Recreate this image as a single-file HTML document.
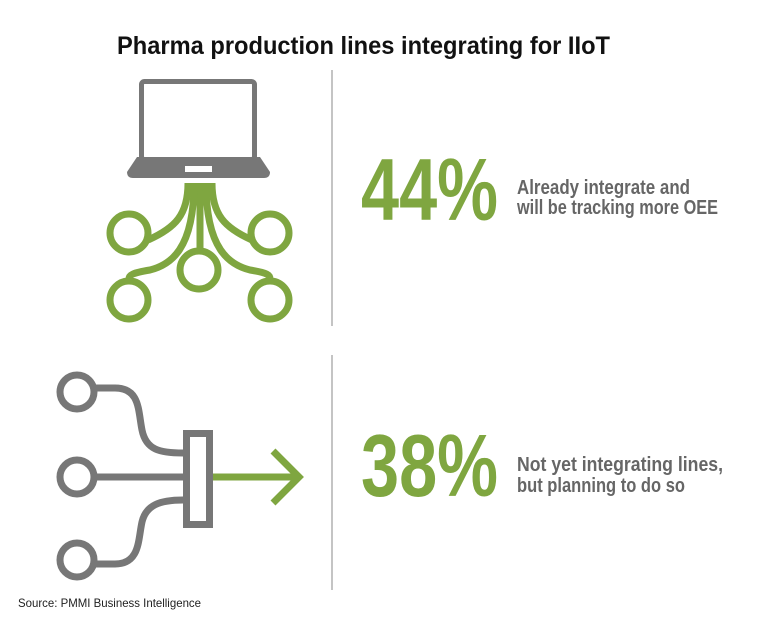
<!DOCTYPE html>
<html><head><meta charset="utf-8"><style>
html,body{margin:0;padding:0;background:#fff;}
svg{display:block;font-family:"Liberation Sans",sans-serif;}
</style></head><body>
<svg width="766" height="625" viewBox="0 0 766 625">
<text x="117" y="54" font-size="25" font-weight="bold" fill="#111" textLength="493" lengthAdjust="spacingAndGlyphs">Pharma production lines integrating for IIoT</text>

<g>
<rect x="141.5" y="81.5" width="113" height="78" rx="3" fill="none" stroke="#777" stroke-width="5"/>
<path d="M137 157 L260 157 L270 172 Q270 178 264 178 L133 178 Q127 178 127 172 Z" fill="#777"/>
<rect x="185" y="166" width="27" height="6" fill="#fff"/>
</g>
<g fill="none" stroke="#7fa640" stroke-width="7">
<line x1="200" y1="183" x2="200" y2="248"/>
<path d="M188 183 C188 215 175 228 148 240"/>
<path d="M212 183 C212 215 225 228 252 240"/>
<path d="M194 183 C194 250 170 265 150 270 C132 273 129 275 129 279"/>
<path d="M206 183 C206 250 230 265 250 270 C268 273 270 275 270 279"/>
<circle cx="129" cy="233" r="19"/>
<circle cx="270" cy="233" r="19"/>
<circle cx="199" cy="270" r="19"/>
<circle cx="129" cy="300" r="19"/>
<circle cx="270" cy="300" r="19"/>
</g>

<line x1="332" y1="70" x2="332" y2="326" stroke="#888" stroke-width="1"/>
<line x1="332" y1="355" x2="332" y2="590" stroke="#888" stroke-width="1"/>

<text x="361" y="220" font-size="88" font-weight="bold" fill="#7fa640" textLength="137" lengthAdjust="spacingAndGlyphs">44%</text>
<g font-size="20" font-weight="bold" fill="#666">
<text x="517" y="194" textLength="173" lengthAdjust="spacingAndGlyphs">Already integrate and</text>
<text x="517" y="214" textLength="201" lengthAdjust="spacingAndGlyphs">will be tracking more OEE</text>
</g>

<g fill="none">
<g stroke="#777" stroke-width="7">
<circle cx="77" cy="392" r="17"/>
<circle cx="77" cy="477" r="17"/>
<circle cx="77" cy="560" r="17"/>
<line x1="94" y1="477" x2="183" y2="477"/>
<path d="M94 388 L115 388 C140 388 138 410 142 430 C146 450 160 453 183 453"/>
<path d="M94 564 L115 564 C140 564 138 540 142 522 C146 505 160 500 183 500"/>
<rect x="186.5" y="433.5" width="23" height="91"/>
</g>
<g stroke="#7fa640" stroke-width="7">
<line x1="213" y1="477" x2="298" y2="477"/>
<polyline points="273,451 299,477 273,503"/>
</g>
</g>

<text x="361" y="496" font-size="88" font-weight="bold" fill="#7fa640" textLength="137" lengthAdjust="spacingAndGlyphs">38%</text>
<g font-size="20" font-weight="bold" fill="#666">
<text x="517" y="471" textLength="206" lengthAdjust="spacingAndGlyphs">Not yet integrating lines,</text>
<text x="517" y="492" textLength="168" lengthAdjust="spacingAndGlyphs">but planning to do so</text>
</g>

<text x="18" y="607" font-size="12" fill="#222" textLength="183" lengthAdjust="spacingAndGlyphs">Source: PMMI Business Intelligence</text>
</svg>
</body></html>
